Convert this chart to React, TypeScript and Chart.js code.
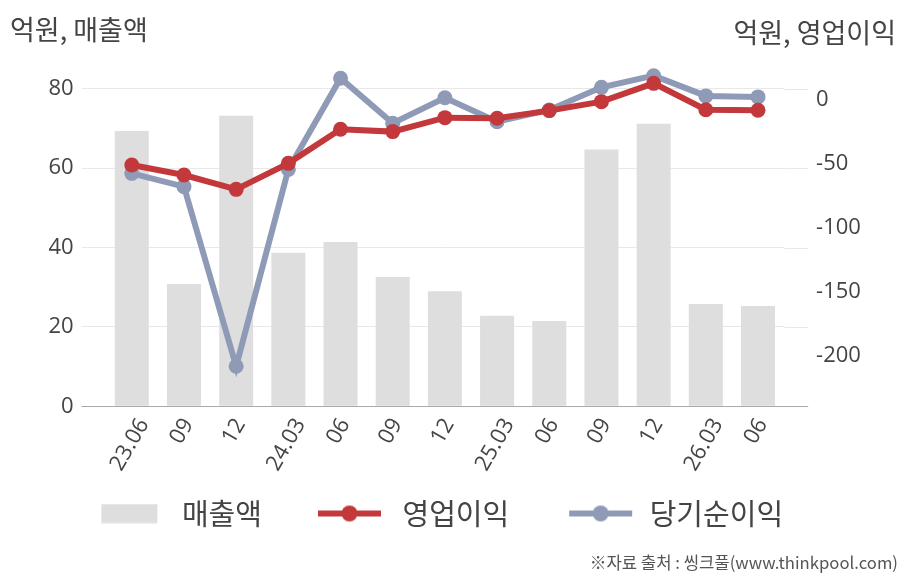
import { useEffect, useRef } from "react"
import { Chart, registerables, type ChartConfiguration, type Plugin } from "chart.js"

Chart.register(...registerables)

// 분기 (YY.MM)
const categories = ["23.06", "09", "12", "24.03", "06", "09", "12", "25.03", "06", "09", "12", "26.03", "06"]
// 억원
const sales = [69.4, 30.8, 73.2, 38.7, 41.4, 32.6, 29.0, 22.8, 21.5, 64.7, 71.2, 25.8, 25.3]
const operatingProfit = [-50.8, -58.6, -69.8, -49.5, -22.9, -24.7, -13.8, -14.3, -8.3, -1.3, 13.0, -7.6, -8.0]
const netProfit = [-57.3, -67.7, -208, -54.2, 17.0, -18.2, 1.8, -16.9, -7.8, 9.9, 19.0, 3.2, 2.4]
const salesTicks = [0, 20, 40, 60, 80]
const profitTicks = [-200, -150, -100, -50, 0]

const BAR_COLOR = "#dedede"
const RED = "#c3393b"
const BLUE = "#8f9bb6"
const GRID = "#e8e8e8"
const AXIS = "#aaaaaa"
const TEXT = "#444444"
const KR_FONT = '"Noto Sans CJK KR", "Noto Sans", sans-serif'
const NUM_FONT = '"Open Sans", "Noto Sans", sans-serif'

const SWATCH_W = 102
const LABEL_ANGLE = (60 * Math.PI) / 180

// legend swatch drawn into a small canvas, used as pointStyle
function swatch(kind: "bar" | "line", color: string, start: number) {
  const c = document.createElement("canvas")
  c.width = SWATCH_W
  c.height = 20
  const g = c.getContext("2d")!
  g.fillStyle = color
  if (kind === "bar") {
    g.fillRect(start, 0.5, 56, 19)
  } else {
    g.fillRect(start, 7, 63, 6)
    g.beginPath()
    g.arc(start + 31.5, 10, 8, 0, Math.PI * 2)
    g.fill()
  }
  return c
}

// grid lines reach 24px past the plot on the right too, axis line on top of bars
const gridExtension: Plugin = {
  id: "gridExtension",
  beforeDatasetsDraw(chart) {
    const { ctx, chartArea } = chart
    const y = chart.scales.y
    ctx.save()
    ctx.lineWidth = 1
    y.ticks.forEach((t) => {
      const py = Math.round(y.getPixelForValue(t.value)) + 0.5
      ctx.strokeStyle = t.value === 0 ? AXIS : GRID
      ctx.beginPath()
      ctx.moveTo(chartArea.right, py)
      ctx.lineTo(chartArea.right + 24, py)
      ctx.stroke()
    })
    ctx.restore()
  },
  afterDatasetsDraw(chart) {
    const { ctx, chartArea } = chart
    const py = Math.round(chart.scales.y.getPixelForValue(0)) + 0.5
    ctx.save()
    ctx.strokeStyle = AXIS
    ctx.lineWidth = 1
    ctx.beginPath()
    ctx.moveTo(chartArea.left - 24, py)
    ctx.lineTo(chartArea.right + 24, py)
    ctx.stroke()
    ctx.restore()
  },
}

// rotated category labels, each centred under its tick (chart.js anchors them at the end)
const centredXLabels: Plugin = {
  id: "centredXLabels",
  afterDraw(chart) {
    const { ctx, chartArea } = chart
    const x = chart.scales.x
    ctx.save()
    ctx.font = `22px ${NUM_FONT}`
    ctx.fillStyle = TEXT
    ctx.textAlign = "center"
    ctx.textBaseline = "middle"
    x.ticks.forEach((t, i) => {
      const label = String(x.getLabelForValue(t.value))
      const w = ctx.measureText(label).width - 2
      const halfH = (w * Math.sin(LABEL_ANGLE) + 16 * Math.cos(LABEL_ANGLE)) / 2
      ctx.save()
      ctx.translate(x.getPixelForTick(i) - 2, chartArea.bottom + 11 + halfH)
      ctx.rotate(-LABEL_ANGLE)
      ctx.fillText(label, 0, 0)
      ctx.restore()
    })
    ctx.restore()
  },
}

function EarningsChart() {
  const chartRef = useRef<HTMLCanvasElement | null>(null)
  const chartInstance = useRef<Chart | null>(null)

  useEffect(() => {
    if (!chartRef.current) return
    const ctx = chartRef.current.getContext("2d")
    if (!ctx) return
    if (chartInstance.current) chartInstance.current.destroy()

    const swatches = [swatch("bar", BAR_COLOR, 36), swatch("line", RED, 32), swatch("line", BLUE, 36)]

    const tickFont = { family: NUM_FONT, size: 22 }

    const config: ChartConfiguration = {
      type: "bar",
      data: {
        labels: categories,
        datasets: [
          {
            type: "bar",
            label: "매출액",
            data: sales,
            backgroundColor: BAR_COLOR,
            yAxisID: "y",
            categoryPercentage: 1,
            barPercentage: 0.652,
            order: 3,
          },
          {
            type: "line",
            label: "영업이익",
            data: operatingProfit,
            borderColor: RED,
            backgroundColor: RED,
            pointBackgroundColor: RED,
            borderWidth: 6,
            pointRadius: 7.5,
            pointBorderWidth: 0,
            tension: 0,
            yAxisID: "y1",
            order: 1,
          },
          {
            type: "line",
            label: "당기순이익",
            data: netProfit,
            borderColor: BLUE,
            backgroundColor: BLUE,
            pointBackgroundColor: BLUE,
            borderWidth: 6,
            pointRadius: 7.5,
            pointBorderWidth: 0,
            tension: 0,
            yAxisID: "y1",
            order: 2,
          },
        ],
      },
      options: {
        responsive: false,
        animation: false,
        events: [],
        // negative left padding only shifts the full-width legend to the left
        layout: { padding: { top: 60, left: -30, right: 29.5, bottom: 42 } },
        plugins: {
          tooltip: { enabled: false },
          title: { display: false },
          legend: {
            position: "bottom",
            labels: {
              usePointStyle: true,
              pointStyleWidth: SWATCH_W,
              padding: 24,
              color: TEXT,
              font: { family: KR_FONT, size: 29 },
              generateLabels: (chart) =>
                chart.data.datasets.map((ds, i) => ({
                  text: ds.label as string,
                  pointStyle: swatches[i],
                  fillStyle: "transparent",
                  strokeStyle: "transparent",
                  lineWidth: 0,
                  fontColor: TEXT,
                  hidden: false,
                  datasetIndex: i,
                })),
            },
          },
        },
        scales: {
          x: {
            type: "category",
            offset: true,
            grid: { display: false, drawTicks: false },
            border: { display: false },
            ticks: { display: false, autoSkip: false },
            afterFit: (s) => {
              s.height = 68.7
            },
          },
          y: {
            position: "left",
            min: 0,
            max: 87.26,
            afterBuildTicks: (s) => {
              s.ticks = salesTicks.map((v) => ({ value: v }))
            },
            grid: {
              color: (c) => (c.tick && c.tick.value === 0 ? AXIS : GRID),
              drawTicks: true,
              tickLength: 24,
            },
            border: { display: false },
            ticks: { padding: 8, color: TEXT, font: tickFont },
            afterFit: (s) => {
              s.width = 135.7
            },
          },
          y1: {
            position: "right",
            min: -239.3,
            max: 31.25,
            afterBuildTicks: (s) => {
              s.ticks = profitTicks.map((v) => ({ value: v }))
            },
            grid: { display: false, drawTicks: false },
            border: { display: false },
            ticks: { padding: 32, color: TEXT, font: tickFont },
            afterFit: (s) => {
              s.width = 94.4
            },
          },
        },
      },
      plugins: [gridExtension, centredXLabels],
    }

    chartInstance.current = new Chart(ctx, config)

    return () => {
      if (chartInstance.current) {
        chartInstance.current.destroy()
        chartInstance.current = null
      }
    }
  }, [])

  return <canvas ref={chartRef} width={908} height={580} style={{ display: "block" }} />
}

export default function App() {
  const label: React.CSSProperties = {
    position: "absolute",
    fontFamily: KR_FONT,
    fontSize: 27,
    lineHeight: "27px",
    color: TEXT,
    whiteSpace: "nowrap",
  }
  return (
    <div style={{ position: "absolute", left: 0, top: 0, width: 908, height: 580, background: "#fff", overflow: "hidden" }}>
      <EarningsChart />
      <div style={{ ...label, left: 10, top: 14.5 }}>억원, 매출액</div>
      <div style={{ ...label, right: 12, top: 17.5 }}>억원, 영업이익</div>
      <div style={{ ...label, right: 10, top: 552, fontSize: 16.7, lineHeight: "20px", color: "#555" }}>
        ※자료 출처 : 씽크풀(www.thinkpool.com)
      </div>
    </div>
  )
}
